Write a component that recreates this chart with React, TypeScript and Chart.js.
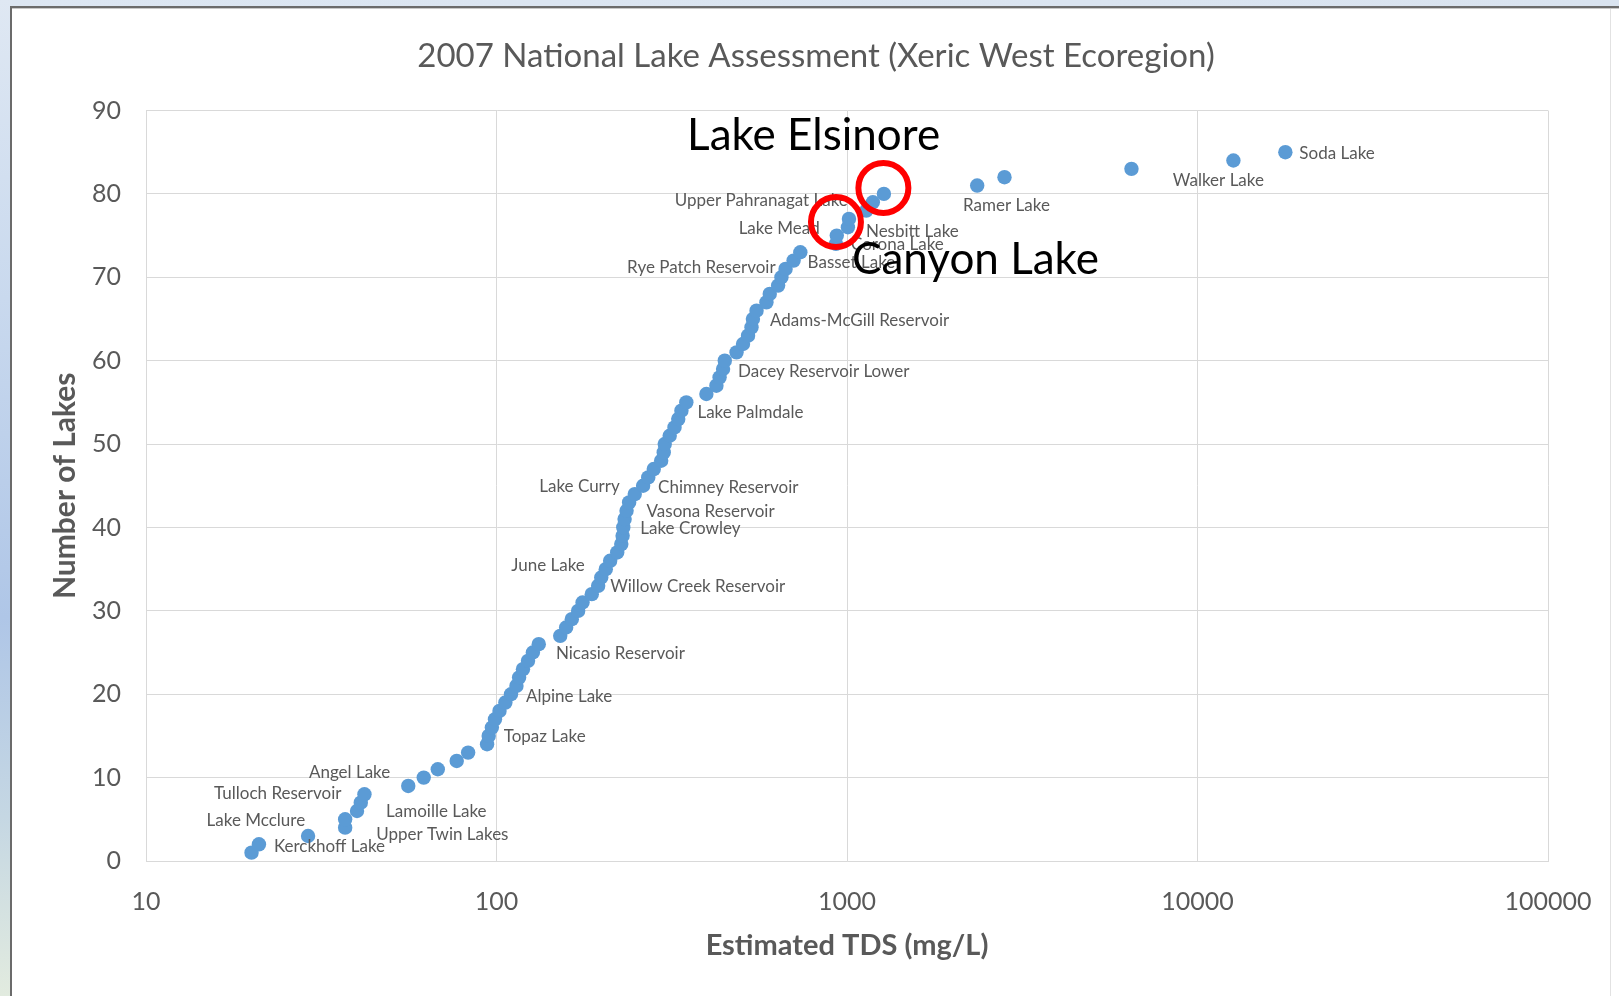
import React, { useEffect, useRef } from "react";
import { Chart, registerables } from "chart.js";

Chart.register(...registerables);

// ---------- data ----------
const TDS_MG_L = [
  20, 21, 29, 37, 37, 40, 41, 42, 56, 62,
  68, 77, 83, 94, 95, 97, 99, 102, 106, 110,
  114, 116, 119, 123, 127, 132, 152, 158, 164, 171,
  176, 187, 195, 199, 205, 211, 221, 227, 229, 230,
  232, 235, 239, 248, 262, 271, 281, 295, 300, 302,
  312, 322, 330, 337, 348, 397, 424, 433, 443, 448,
  484, 505, 522, 534, 539, 552, 589, 602, 636, 650,
  668, 704, 736, 930, 935, 1006, 1013, 1135, 1185, 1274,
  2352, 2814, 6480, 12660, 17810,
];
const NUMBER_OF_LAKES = [
  1, 2, 3, 4, 5, 6, 7, 8, 9, 10,
  11, 12, 13, 14, 15, 16, 17, 18, 19, 20,
  21, 22, 23, 24, 25, 26, 27, 28, 29, 30,
  31, 32, 33, 34, 35, 36, 37, 38, 39, 40,
  41, 42, 43, 44, 45, 46, 47, 48, 49, 50,
  51, 52, 53, 54, 55, 56, 57, 58, 59, 60,
  61, 62, 63, 64, 65, 66, 67, 68, 69, 70,
  71, 72, 73, 74, 75, 76, 77, 78, 79, 80,
  81, 82, 83, 84, 85,
];
const X_TICKS = [10, 100, 1000, 10000, 100000];
const Y_TICKS = [0, 10, 20, 30, 40, 50, 60, 70, 80, 90];

const CHART_TITLE = "2007 National Lake Assessment (Xeric West Ecoregion)";

// lake rank -> name of the labelled lakes
const LABELLED_RANKS = [85, 84, 82, 79, 76, 75, 74, 72, 71, 65, 59, 54, 45, 44, 42, 40, 35, 33, 25, 20, 15, 9, 8, 6, 5, 4, 2];
const LABELLED_NAMES = [
  "Soda Lake", "Walker Lake", "Ramer Lake", "Upper Pahranagat Lake", "Nesbitt Lake",
  "Lake Mead", "Corona Lake", "Basset Lake", "Rye Patch Reservoir", "Adams-McGill Reservoir",
  "Dacey Reservoir Lower", "Lake Palmdale", "Chimney Reservoir", "Lake Curry", "Vasona Reservoir",
  "Lake Crowley", "June Lake", "Willow Creek Reservoir", "Nicasio Reservoir", "Alpine Lake",
  "Topaz Lake", "Angel Lake", "Tulloch Reservoir", "Lamoille Lake", "Lake Mcclure",
  "Upper Twin Lakes", "Kerckhoff Lake",
];

// callouts (text centre / ring centre in data units)
const CALLOUT_TEXTS = ["Lake Elsinore", "Canyon Lake"];
const CALLOUT_TEXT_TDS = [803, 2326];
const CALLOUT_TEXT_COUNT = [85.26, 70.44];
const RING_TDS = [1270, 930];
const RING_COUNT = [80.72, 76.63];

// ---------- layout / style (not data) ----------
// placement of each label relative to its marker: [textAlign, dx, dy]
const LABEL_PLACEMENT: [CanvasTextAlign, number, number][] = [
  ["left", 14, 1], ["center", -15, 20], ["center", 2, 28], ["right", -25, -2], ["left", 18, 4],
  ["right", -17, -7], ["left", 15, 1], ["left", 14, 2], ["right", -10, -1], ["left", 17, 2],
  ["left", 15, 3], ["left", 16, 2], ["left", 15, 2], ["right", -15, -8], ["left", 20, 1],
  ["left", 17, 1], ["right", -21, -4], ["left", 12, 1], ["left", 23, 1], ["left", 15, 2],
  ["left", 15, 1], ["right", -18, -13], ["right", -23, -1], ["left", 29, 1], ["right", -40, 1],
  ["left", 31, 7], ["left", 15, 2],
];

const FONT = "Lato, 'Open Sans', sans-serif";
const GREY_TEXT = "#595959";
const GRID = "#D9D9D9";
const POINT_BLUE = "#5B9BD5";
const TITLE_X_SHIFT = -31;
const TITLE_Y = 56;

const titlePlugin = {
  id: "chartTitleText",
  afterDraw(chart: any) {
    const ctx = chart.ctx as CanvasRenderingContext2D;
    const { left, right } = chart.chartArea;
    ctx.save();
    ctx.font = `33px ${FONT}`;
    ctx.fillStyle = GREY_TEXT;
    ctx.textAlign = "center";
    ctx.textBaseline = "middle";
    ctx.fillText(CHART_TITLE, (left + right) / 2 + TITLE_X_SHIFT, TITLE_Y);
    ctx.restore();
  },
};

const lakeLabelPlugin = {
  id: "lakeLabels",
  afterDatasetsDraw(chart: any) {
    const meta = chart.getDatasetMeta(0);
    const ctx = chart.ctx as CanvasRenderingContext2D;
    ctx.save();
    ctx.font = `17px ${FONT}`;
    ctx.fillStyle = GREY_TEXT;
    ctx.textBaseline = "middle";
    LABELLED_RANKS.forEach((rank, i) => {
      const idx = NUMBER_OF_LAKES.indexOf(rank);
      const el = meta.data[idx];
      if (!el) return;
      const [align, dx, dy] = LABEL_PLACEMENT[i];
      ctx.textAlign = align;
      ctx.fillText(LABELLED_NAMES[i], el.x + dx, el.y + dy);
    });
    ctx.restore();
  },
};

const calloutPlugin = {
  id: "callouts",
  afterDraw(chart: any) {
    const ctx = chart.ctx as CanvasRenderingContext2D;
    const xs = chart.scales.x;
    const ys = chart.scales.y;
    ctx.save();
    ctx.strokeStyle = "#FF0000";
    ctx.lineWidth = 6;
    RING_TDS.forEach((v, i) => {
      ctx.beginPath();
      ctx.arc(xs.getPixelForValue(v), ys.getPixelForValue(RING_COUNT[i]), 25, 0, Math.PI * 2);
      ctx.stroke();
    });
    ctx.fillStyle = "#000000";
    ctx.font = `44px ${FONT}`;
    ctx.textAlign = "center";
    ctx.textBaseline = "alphabetic";
    CALLOUT_TEXTS.forEach((t, i) => {
      ctx.fillText(t, xs.getPixelForValue(CALLOUT_TEXT_TDS[i]), ys.getPixelForValue(CALLOUT_TEXT_COUNT[i]));
    });
    ctx.restore();
  },
};

export default function App() {
  const ref = useRef<HTMLCanvasElement>(null);

  useEffect(() => {
    if (!ref.current) return;
    const chart = new Chart(ref.current, {
      type: "scatter",
      data: {
        datasets: [
          {
            label: "Lakes",
            data: TDS_MG_L.map((x, i) => ({ x, y: NUMBER_OF_LAKES[i] })),
            backgroundColor: POINT_BLUE,
            borderWidth: 0,
            pointRadius: 7.2,
            pointHoverRadius: 7.2,
          },
        ],
      },
      options: {
        responsive: false,
        maintainAspectRatio: false,
        animation: false,
        events: [],
        layout: { padding: { left: 12, right: 71, top: 110.5, bottom: 0 } },
        plugins: {
          legend: { display: false },
          tooltip: { enabled: false },
          title: { display: false },
        },
        scales: {
          x: {
            type: "logarithmic",
            min: 10,
            max: 100000,
            afterBuildTicks: (s: any) => {
              s.ticks = X_TICKS.map((value) => ({ value }));
            },
            afterFit: (s: any) => {
              s.height = 135;
            },
            ticks: {
              callback: (v: any) => String(v),
              color: GREY_TEXT,
              font: { family: FONT, size: 25 },
              padding: 26,
              autoSkip: false,
              maxRotation: 0,
            },
            grid: { color: GRID, lineWidth: 1, drawTicks: false },
            border: { color: GRID, width: 1 },
            title: {
              display: true,
              text: "Estimated TDS (mg/L)",
              color: GREY_TEXT,
              font: { family: FONT, size: 29, weight: "bold" },
              padding: { top: 0, bottom: 32.6 },
            },
          },
          y: {
            min: 0,
            max: 90,
            afterBuildTicks: (s: any) => {
              s.ticks = Y_TICKS.map((value) => ({ value }));
            },
            afterFit: (s: any) => {
              s.width = 134;
            },
            ticks: {
              color: GREY_TEXT,
              font: { family: FONT, size: 25 },
              padding: 25,
            },
            grid: { color: GRID, lineWidth: 1, drawTicks: false },
            border: { color: GRID, width: 1 },
            title: {
              display: true,
              text: "Number of Lakes",
              color: GREY_TEXT,
              font: { family: FONT, size: 30, weight: "bold" },
              padding: { top: 35, bottom: 0 },
            },
          },
        },
      } as any,
      plugins: [lakeLabelPlugin, calloutPlugin, titlePlugin],
    });
    return () => chart.destroy();
  }, []);

  return (
    <div style={{ position: "fixed", left: 0, top: 0, width: 1619, height: 996, background: "#ffffff", overflow: "hidden" }}>
      <canvas ref={ref} width={1619} height={996} style={{ position: "absolute", left: 0, top: 0, width: 1619, height: 996 }} />
      {/* window frame */}
      <div style={{ position: "absolute", left: 0, top: 0, width: 1619, height: 6, background: "linear-gradient(to right, #dce6f2, #d9e3ef)" }} />
      <div
        style={{
          position: "absolute",
          left: 0,
          top: 0,
          width: 10,
          height: 996,
          background: "linear-gradient(to bottom, #dfe8f3 0%, #c9d9ee 30%, #afc6e7 62%, #c5d7e3 82%, #e2ebdf 100%)",
        }}
      />
      <div style={{ position: "absolute", left: 10, top: 6, width: 1609, height: 2, background: "#6b6b6b" }} />
      <div style={{ position: "absolute", left: 10, top: 8, width: 1609, height: 1, background: "#c8c8c8" }} />
      <div style={{ position: "absolute", left: 10, top: 6, width: 2, height: 990, background: "#6b6b6b" }} />
      <div style={{ position: "absolute", left: 1610, top: 9, width: 1, height: 987, background: "#e2e2e2" }} />
    </div>
  );
}
